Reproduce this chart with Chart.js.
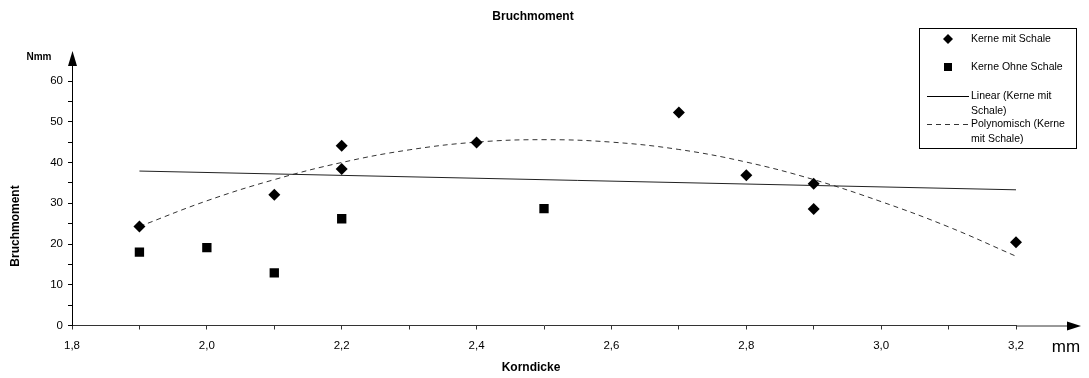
<!DOCTYPE html>
<html>
<head>
<meta charset="utf-8">
<title>Bruchmoment</title>
<script src="https://cdn.jsdelivr.net/npm/chart.js@4.4.1/dist/chart.umd.min.js"></script>
<style>
  html, body { margin: 0; padding: 0; background: #fff; }
  #wrap { width: 1089px; height: 378px; position: relative; }
</style>
</head>
<body>
<div id="wrap"><canvas id="bruchChart" width="1089" height="378"></canvas></div>
<script>
// ── data ───────────────────────────────────────────────────────────
const mitX  = [1.9, 2.1, 2.2, 2.2, 2.4, 2.7, 2.8, 2.9, 2.9, 3.2];   // Kerne mit Schale
const mitY  = [24.3, 32.1, 44.1, 38.4, 44.9, 52.3, 36.9, 34.8, 28.6, 20.4];
const ohneX = [1.9, 2.0, 2.1, 2.2, 2.5];                            // Kerne Ohne Schale
const ohneY = [18.0, 19.1, 12.9, 26.2, 28.7];

// trend lines as drawn in the original
const linX  = [1.9, 3.2];
const linY  = [37.9, 33.3];
const polyX = [1.9, 2.0, 2.1, 2.2, 2.3, 2.4, 2.5, 2.6, 2.7, 2.8, 2.9, 3.0, 3.1, 3.2];
const polyY = [24.3, 30.6, 35.8, 40.0, 43.1, 45.0, 45.6, 45.0, 43.2, 40.1, 35.8, 30.4, 24.2, 17.0];

// axes
const xMin = 1.8, xMax = 3.2, xStep = 0.1;
const yMin = 0, yMax = 60, yStep = 5;

const legendLabels = [
    ["Kerne mit Schale"],
    ["Kerne Ohne Schale"],
    ["Linear (Kerne mit", "Schale)"],
    ["Polynomisch (Kerne", "mit Schale)"]
];

const toPts = (xs, ys) => xs.map((x, i) => ({ x, y: ys[i] }));

Chart.defaults.font.family = "'Liberation Sans', Arial, sans-serif";
Chart.defaults.font.size = 11;
Chart.defaults.color = "#000";

const FONT = "'Liberation Sans', Arial, sans-serif";

// ── extras: arrows, titles, legend box ─────────────────────────────
const decorations = {
    id: "decorations",
    afterDraw(chart) {
        const ctx = chart.ctx;
        const { left, right, top, bottom } = chart.chartArea;
        ctx.save();

        // axis arrows
        ctx.strokeStyle = "#000";
        ctx.fillStyle = "#000";
        ctx.lineWidth = 1;
        ctx.beginPath();
        ctx.moveTo(left + 0.5, top);
        ctx.lineTo(left + 0.5, 60);
        ctx.stroke();
        ctx.strokeStyle = "#333";
        ctx.beginPath();
        ctx.moveTo(right, bottom + 0.5);
        ctx.lineTo(1070, bottom + 0.5);
        ctx.stroke();
        ctx.beginPath();
        ctx.moveTo(left + 0.5, 51);
        ctx.lineTo(left - 4, 66);
        ctx.lineTo(left + 5, 66);
        ctx.closePath();
        ctx.fill();
        ctx.beginPath();
        ctx.moveTo(1081, bottom + 0.5);
        ctx.lineTo(1067, bottom - 4);
        ctx.lineTo(1067, bottom + 5);
        ctx.closePath();
        ctx.fill();

        // titles
        ctx.textBaseline = "middle";
        ctx.textAlign = "center";
        ctx.font = "bold 12px " + FONT;
        ctx.fillText("Bruchmoment", 533, 17);
        ctx.fillText("Korndicke", 531, 368);
        ctx.font = "bold 10px " + FONT;
        ctx.fillText("Nmm", 39, 57);
        ctx.font = "17px " + FONT;
        ctx.fillText("mm", 1066, 347);

        ctx.save();
        ctx.translate(16, 226);
        ctx.rotate(-Math.PI / 2);
        ctx.font = "bold 12px " + FONT;
        ctx.fillText("Bruchmoment", 0, 0);
        ctx.restore();

        // legend
        const bx = 919, by = 28, bw = 157, bh = 120;
        ctx.strokeStyle = "#000";
        ctx.strokeRect(bx + 0.5, by + 0.5, bw, bh);
        ctx.font = "10.5px " + FONT;
        ctx.textAlign = "left";
        const rows = [39, 67, 96, 124];
        legendLabels.forEach((lines, i) => {
            lines.forEach((t, j) => ctx.fillText(t, 971, rows[i] + j * 15));
        });
        // symbols
        ctx.beginPath();
        ctx.moveTo(948, rows[0] - 5);
        ctx.lineTo(953, rows[0]);
        ctx.lineTo(948, rows[0] + 5);
        ctx.lineTo(943, rows[0]);
        ctx.closePath();
        ctx.fill();
        ctx.fillRect(944, rows[1] - 4, 8, 8);
        ctx.lineWidth = 1;
        ctx.beginPath();
        ctx.moveTo(927, rows[2] + 0.5);
        ctx.lineTo(969, rows[2] + 0.5);
        ctx.stroke();
        ctx.setLineDash([5, 4]);
        ctx.strokeStyle = "#333";
        ctx.beginPath();
        ctx.moveTo(927, rows[3] + 0.5);
        ctx.lineTo(969, rows[3] + 0.5);
        ctx.stroke();
        ctx.restore();
    }
};

new Chart(document.getElementById("bruchChart"), {
    type: "scatter",
    data: {
        datasets: [
            {
                label: "Kerne mit Schale",
                data: toPts(mitX, mitY),
                pointStyle: "rectRot",
                pointRadius: 6,
                backgroundColor: "#000",
                borderColor: "#000",
                borderWidth: 0,
                clip: 10,
                order: 1
            },
            {
                label: "Kerne Ohne Schale",
                data: toPts(ohneX, ohneY),
                pointStyle: "rect",
                pointRadius: 6.6,
                backgroundColor: "#000",
                borderColor: "#000",
                borderWidth: 0,
                clip: 10,
                order: 1
            },
            {
                type: "line",
                label: "Linear (Kerne mit Schale)",
                data: toPts(linX, linY),
                borderColor: "#222",
                borderWidth: 1,
                pointRadius: 0,
                fill: false,
                order: 2
            },
            {
                type: "line",
                label: "Polynomisch (Kerne mit Schale)",
                data: toPts(polyX, polyY),
                borderColor: "#333",
                borderWidth: 1,
                borderDash: [5, 4],
                pointRadius: 0,
                tension: 0.4,
                fill: false,
                order: 2
            }
        ]
    },
    options: {
        responsive: false,
        animation: false,
        layout: { padding: { top: 81, right: 73, bottom: 0, left: 0 } },
        plugins: {
            legend: { display: false },
            tooltip: { enabled: false }
        },
        scales: {
            x: {
                type: "linear",
                min: xMin,
                max: xMax,
                afterFit: s => { s.height = 52.5; },
                afterBuildTicks: s => {
                    s.ticks = [];
                    for (let k = 0; k <= Math.round((xMax - xMin) / xStep); k++) {
                        s.ticks.push({ value: +(xMin + k * xStep).toFixed(1) });
                    }
                },
                ticks: {
                    padding: 9,
                    maxRotation: 0,
                    autoSkip: false,
                    font: { size: 11.5 },
                    callback: v => (Math.round(v * 10) % 2 === 0 ? v.toFixed(1).replace(".", ",") : "")
                },
                grid: { drawOnChartArea: false, tickLength: 4, color: "#333" },
                border: { color: "#333" }
            },
            y: {
                min: yMin,
                max: yMax,
                afterFit: s => { s.width = 72; },
                ticks: {
                    stepSize: yStep,
                    padding: 5,
                    font: { size: 11.5 },
                    callback: v => (v % 10 === 0 ? String(v) : "")
                },
                grid: { drawOnChartArea: false, tickLength: 4, color: "#000" },
                border: { color: "#000" }
            }
        }
    },
    plugins: [decorations]
});
</script>
</body>
</html>
